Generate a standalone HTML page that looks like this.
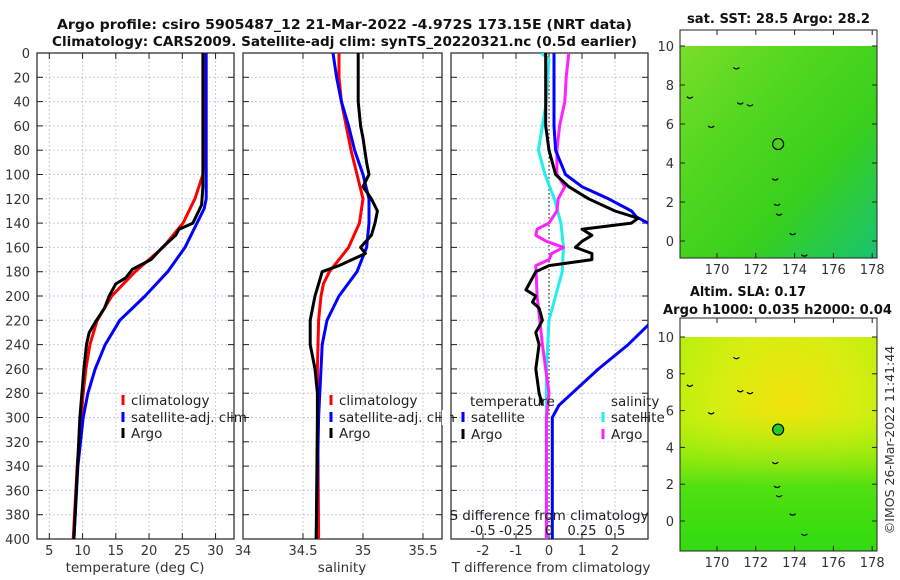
<!DOCTYPE html>
<html><head><meta charset="utf-8"><style>
body{margin:0;background:#fff;}
svg{display:block;font-family:"DejaVu Sans","Liberation Sans",sans-serif;}
</style></head><body>
<svg id="fig" width="900" height="580" viewBox="0 0 900 580" xmlns="http://www.w3.org/2000/svg">
<defs>
<linearGradient id="sstg" x1="0" y1="0" x2="1" y2="1">
<stop offset="0" stop-color="#7ade2a"/><stop offset="0.3" stop-color="#55d820"/><stop offset="0.65" stop-color="#38d01c"/><stop offset="1" stop-color="#18c470"/>
</linearGradient>
<radialGradient id="slag" cx="0.55" cy="0.3" r="0.7">
<stop offset="0" stop-color="#f2e20c"/><stop offset="0.5" stop-color="#d6ee10"/><stop offset="1" stop-color="#b0f00c"/>
</radialGradient>
<linearGradient id="slab" x1="0" y1="0" x2="0" y2="1">
<stop offset="0.35" stop-color="#a8f00c" stop-opacity="0"/><stop offset="0.7" stop-color="#50e010"/><stop offset="1" stop-color="#30dc10"/>
</linearGradient>
<clipPath id="c1"><rect x="37" y="53" width="197" height="486"/></clipPath>
<clipPath id="c2"><rect x="243" y="53" width="199" height="486"/></clipPath>
<clipPath id="c3"><rect x="451" y="53" width="197" height="486"/></clipPath>
</defs>
<g id="root"></g>
</svg>
<script>
// ---- data ----
const tDepth = [0,80,100,120,140,160,180,200,220,240,260,280,300,340,400];
const tClim  = [28.4,28.4,28.1,26.9,25.1,22.1,17.9,14.4,12.2,11.1,10.5,10.1,9.8,9.2,8.6];
const tSatDepth = [0,120,128,160,180,200,220,240,260,280,300,340,400];
const tSat   = [28.6,28.6,28.3,25.4,22.8,19.4,15.6,13.4,11.9,10.8,10.1,9.3,8.7];
const tArgoDepth = [0,110,125,140,145,150,160,170,178,185,190,200,210,220,230,240,260,300,400];
const tArgo  = [28.1,28.1,27.9,26.6,24.5,24.0,22.0,20.3,17.5,16.5,15.0,14.0,13.3,12.1,11.0,10.6,10.2,9.6,8.7];

const sClimDepth = [0,20,40,60,80,100,120,140,160,170,180,190,200,220,260,400];
const sClim  = [34.8,34.8,34.82,34.86,34.9,34.95,35.0,34.97,34.88,34.8,34.72,34.67,34.65,34.63,34.62,34.63];
const sSatDepth = [0,20,40,60,80,100,120,140,160,180,200,220,240,300,400];
const sSat   = [34.75,34.78,34.82,34.88,34.93,35.0,35.05,35.05,35.03,34.95,34.8,34.7,34.66,34.63,34.61];
const sArgoDepth = [0,40,60,70,90,100,110,120,130,140,150,160,165,175,180,190,200,220,240,260,280,300,400];
const sArgo  = [34.96,34.96,34.98,35.0,35.03,35.05,35.0,35.07,35.12,35.1,35.07,34.98,35.02,34.8,34.66,34.63,34.6,34.56,34.56,34.6,34.62,34.62,34.61];

const dTSatDepth = [0,60,80,100,110,120,130,135,140,160,200,224,240,260,280,290,300,400];
const dTSat  = [0.15,0.15,0.2,0.5,1.0,1.8,2.5,2.65,3.0,4.0,4.0,3.0,2.4,1.5,0.7,0.3,0.1,0.1];
const dTArgoDepth = [0,60,80,100,110,120,130,136,140,145,150,155,160,165,170,175,180,190,195,200,205,210,220,230,240,260,280,290];
const dTArgo = [-0.1,-0.1,0.0,0.2,0.6,1.2,2.0,2.7,2.5,1.0,1.3,1.0,0.8,1.3,1.3,0.0,-0.4,-0.6,-0.7,-0.4,-0.5,-0.3,-0.2,-0.4,-0.3,-0.4,-0.3,-0.2];
const dSSatDepth = [0,5,20,40,60,80,100,120,140,160,180,200,220,260,300,400];
const dSSat  = [-0.06,0.0,-0.01,-0.02,-0.05,-0.08,-0.03,0.04,0.09,0.11,0.1,0.05,0.0,-0.02,-0.02,-0.02];
const dSArgoDepth = [0,20,40,60,80,100,110,120,130,140,145,150,155,160,165,170,175,200,240,280,300,400];
const dSArgo = [0.15,0.13,0.12,0.08,0.06,0.06,0.12,0.07,0.06,0.0,-0.09,-0.1,-0.02,0.11,0.02,0.0,-0.1,-0.09,-0.05,0.0,-0.02,-0.02];

const depthTicks = [0,20,40,60,80,100,120,140,160,180,200,220,240,260,280,300,320,340,360,380,400];
const tTicks = [5,10,15,20,25,30];
const sTicks = [34.5,35,35.5];
const dTTicks = [-2,-1,0,1,2];
const dSTicks = [-0.5,-0.25,0,0.25,0.5];
const lonTicks = [170,172,174,176,178];
const latTicks = [0,2,4,6,8,10];
const floatLon = 173.15, floatLat = 4.97;

// ---- scales ----
const Y = d => 53 + d*(486/400);
const XT = t => 49.3 + (t-5)*6.65;
const XS = s => 243 + (s-34)*120;
const XD = t => 549 + t*33;
const XDS = s => 549 + s*132;
const lonX = l => 717 + (l-170)*19.4;
const lat1 = a => 241 - a*19.5;
const lat2 = a => 521 - a*18.4;

const NS="http://www.w3.org/2000/svg";
const root=document.getElementById('root');
function mk(tag,attrs,parent,text){const e=document.createElementNS(NS,tag);for(const k in attrs)e.setAttribute(k,attrs[k]);if(text!==undefined)e.textContent=text;(parent||root).appendChild(e);return e;}

function panel(name,x0,x1,xTicks,xf,labels){
  const g=mk('g',{});
  
  
  depthTicks.forEach(d=>{const l=mk('line',{x1:x0,x2:x1,y1:Y(d),y2:Y(d),stroke:'#c5cde6','stroke-width':1,'stroke-dasharray':'2,2'},g);
    
    mk('line',{x1:x0,x2:x0+6,y1:Y(d),y2:Y(d),stroke:'#222'},g);mk('line',{x1:x1-6,x2:x1,y1:Y(d),y2:Y(d),stroke:'#222'},g);});
  xTicks.forEach(v=>{const x=xf(v);const l=mk('line',{x1:x,x2:x,y1:53,y2:539,stroke:'#c5cde6','stroke-dasharray':'2,2'},g);
    
    mk('line',{x1:x,x2:x,y1:53,y2:59,stroke:'#222'},g);mk('line',{x1:x,x2:x,y1:533,y2:539,stroke:'#222'},g);
    if(labels){const t=mk('text',{x:x,y:555,'font-size':13,fill:'#333','text-anchor':'middle'},g,String(v));
      }});
  mk('rect',{x:x0,y:53,width:x1-x0,height:486,fill:'none',stroke:'#222','stroke-width':1.2},g);
  return g;
}
function line(name,xs,ds,xf,color,clip,w){
  const pts=xs.map((v,i)=>xf(v).toFixed(1)+','+Y(ds[i]).toFixed(1)).join(' ');
  const p=mk('polyline',{points:pts,fill:'none',stroke:color,'stroke-width':w||3,'stroke-linejoin':'round','clip-path':'url(#'+clip+')'});
  
}
function txt(name,x,y,s,attrs){const t=mk('text',Object.assign({x:x,y:y,'font-size':13,fill:'#222'},attrs||{}),null,s);
  return t;}
function legItem(name,x,y,color,label){
  const m=mk('line',{x1:x,x2:x,y1:y-10,y2:y,stroke:color,'stroke-width':3});
  
  txt(name,x+8,y,label,{'font-size':13.5});
}
const bold={'font-weight':'bold','font-size':13,fill:'#111',lengthAdjust:'spacingAndGlyphs'};

// titles
txt('title-line-1',57,29,'Argo profile: csiro 5905487_12 21-Mar-2022 -4.972S 173.15E (NRT data)',Object.assign({textLength:575},bold));
txt('title-line-2',52,46,'Climatology: CARS2009. Satellite-adj clim: synTS_20220321.nc (0.5d earlier)',Object.assign({textLength:585},bold));

// panel 1
panel('temperature-panel',37,234,tTicks,XT,true);
depthTicks.forEach(d=>txt('y-tick-label',30,Y(d)+5,String(d),{'text-anchor':'end',fill:'#333'}));
line('temperature-climatology-line',tClim,tDepth,XT,'#ff0000','c1');
line('temperature-satellite-line',tSat,tSatDepth,XT,'#0000ff','c1');
line('temperature-argo-line',tArgo,tArgoDepth,XT,'#000000','c1');
txt('temperature-x-axis-title',135,572,'temperature (deg C)',{'text-anchor':'middle','font-size':13.5,fill:'#333'});
legItem('legend-climatology',123,405,'#ff0000','climatology');
legItem('legend-satellite-adj',123,422,'#0000ff','satellite-adj. clim');
legItem('legend-argo',123,438,'#000','Argo');

// panel 2
panel('salinity-panel',243,442,sTicks,XS,true);
txt('x-tick-label',243,555,'34',{'text-anchor':'middle',fill:'#333'});
line('salinity-climatology-line',sClim,sClimDepth,XS,'#ff0000','c2');
line('salinity-satellite-line',sSat,sSatDepth,XS,'#0000ff','c2');
line('salinity-argo-line',sArgo,sArgoDepth,XS,'#000000','c2');
txt('salinity-x-axis-title',342,572,'salinity',{'text-anchor':'middle','font-size':13.5,fill:'#333'});
legItem('legend-climatology-s',331,405,'#ff0000','climatology');
legItem('legend-satellite-adj-s',331,422,'#0000ff','satellite-adj. clim');
legItem('legend-argo-s',331,438,'#000','Argo');
mk('rect',{x:442,y:410,width:8,height:15,fill:'#fff'});

// panel 3
panel('difference-panel',451,648,dTTicks,XD,true);
const zl=mk('line',{x1:549,x2:549,y1:53,y2:539,stroke:'#333','stroke-dasharray':'1.5,2.5','stroke-width':1.2});

line('s-diff-satellite-line',dSSat,dSSatDepth,XDS,'#22eeee','c3');
line('s-diff-argo-line',dSArgo,dSArgoDepth,XDS,'#ff22ff','c3');
line('t-diff-satellite-line',dTSat,dTSatDepth,XD,'#0000ff','c3');
line('t-diff-argo-line',dTArgo,dTArgoDepth,XD,'#000000','c3');
txt('t-diff-x-axis-title',551,572,'T difference from climatology',{'text-anchor':'middle','font-size':13.5,fill:'#333'});
txt('s-diff-axis-title',549,520,'S difference from climatology',{'text-anchor':'middle','font-size':13.5,fill:'#222'});
dSTicks.forEach(v=>txt('s-tick-label',XDS(v),535,String(v),{'text-anchor':'middle','font-size':13,fill:'#222'}));
txt('legend-temperature-heading',470,406,'temperature',{'font-size':13.5});
txt('legend-salinity-heading',611,406,'salinity',{'font-size':13.5});
legItem('legend-t-satellite',463,422,'#0000ff','satellite');
legItem('legend-t-argo',463,439,'#000','Argo');
legItem('legend-s-satellite',603,422,'#22eeee','satellite');
legItem('legend-s-argo',603,439,'#ff22ff','Argo');

// maps
function map(name,yTop,yBot,latf,fill,extra,circleFill){
  const g=mk('g',{});
  
  const yy=latf(10);
  mk('rect',{x:680,y:yy,width:197,height:yBot-yy,fill:fill},g);
  if(extra)mk('rect',{x:680,y:yy,width:197,height:yBot-yy,fill:extra},g);
  mk('rect',{x:680,y:yTop,width:197,height:yBot-yTop,fill:'none',stroke:'#222'},g);
  latTicks.forEach(a=>{mk('line',{x1:680,x2:685,y1:latf(a),y2:latf(a),stroke:'#222'},g);mk('line',{x1:872,x2:877,y1:latf(a),y2:latf(a),stroke:'#222'},g);
    const t=mk('text',{x:674,y:latf(a)+5,'font-size':13,fill:'#333','text-anchor':'end'},g,String(a));});
  lonTicks.forEach(l=>{mk('line',{x1:lonX(l),x2:lonX(l),y1:yBot-5,y2:yBot,stroke:'#222'},g);mk('line',{x1:lonX(l),x2:lonX(l),y1:yTop,y2:yTop+5,stroke:'#222'},g);
    const t=mk('text',{x:lonX(l),y:yBot+16,'font-size':13,fill:'#333','text-anchor':'middle'},g,String(l));});
  const c=mk('circle',{cx:lonX(floatLon),cy:latf(floatLat),r:5.5,fill:circleFill,stroke:'#000','stroke-width':1.2},g);
  
  [[169.7,5.9],[171.2,7.1],[171.7,7.0],[173.0,3.2],[173.1,1.9],[173.2,1.4],[173.9,0.4],[174.5,-0.7],[168.6,7.4],[171.0,8.9]].forEach(p=>
    mk('path',{d:`M${lonX(p[0])-3},${latf(p[1])} q3,3 6,0`,stroke:'#000','stroke-width':1.2,fill:'none'},g));
}
map('sst-map',30,258,lat1,'url(#sstg)',null,'none');
map('sla-map',318,551,lat2,'url(#slag)','url(#slab)','#22cc22');
txt('sst-map-title',687,23,'sat. SST: 28.5 Argo: 28.2',Object.assign({textLength:183},bold));
txt('sla-map-title-1',690,296,'Altim. SLA: 0.17',Object.assign({textLength:116},bold));
txt('sla-map-title-2',663,314,'Argo h1000: 0.035 h2000: 0.04',Object.assign({textLength:229},bold));
txt('imos-credit',894,440,'©IMOS 26-Mar-2022 11:41:44',{'font-size':12.5,'text-anchor':'middle',fill:'#333',transform:'rotate(-90 894 440)'});
</script>
</body></html>
